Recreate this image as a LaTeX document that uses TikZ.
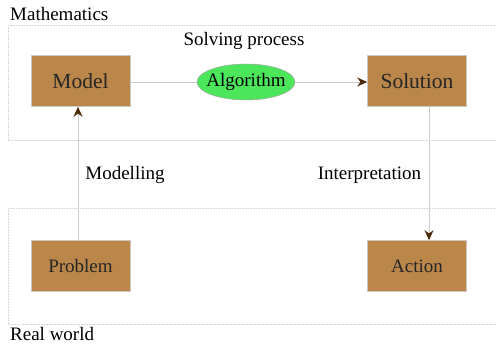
\documentclass[tikz,border=0pt]{standalone}
\usepackage{fontspec}
\newfontfamily\tms{Liberation Serif}
\usetikzlibrary{shapes.geometric,arrows.meta}
\definecolor{boxfill}{HTML}{BA864A}
\definecolor{boxline}{HTML}{D0C8C0}
\definecolor{conn}{HTML}{CCCCCC}
\definecolor{tipc}{HTML}{4A2A0A}
\definecolor{algfill}{HTML}{4CE65A}
\definecolor{zone}{HTML}{D4D4D4}
\begin{document}
\begin{tikzpicture}[x=1pt,y=-1pt,
  zonebox/.style={draw=zone,densely dotted,line width=0.6pt},
  stagebox/.style={draw=boxline,fill=boxfill,line width=0.6pt,minimum width=99pt,minimum height=51pt,inner sep=0pt,text=black!85},
  algbox/.style={ellipse,draw=gray!70,fill=algfill,line width=0.5pt,minimum width=98pt,minimum height=36pt,inner xsep=-5pt,inner ysep=0pt,font=\tms\fontsize{19}{21}\selectfont},
  conline/.style={draw=conn,line width=0.8pt},
  conarrow/.style={conline,-{Stealth[length=10pt,width=9pt,color=tipc]}},
  lbl/.style={inner sep=0pt,font=\tms\fontsize{19}{21}\selectfont}]
\useasboundingbox (0,0) rectangle (496,344);
\fill[white] (0,0) rectangle (496,344);
\draw[zonebox] (8,25) -- (500,25) (8,25) -- (8,140) -- (500,140);
\draw[zonebox] (8,208) -- (500,208) (8,208) -- (8,324) -- (500,324);
\node[lbl,anchor=base west] (math) at (10,21) {Mathematics};
\node[lbl,anchor=base west] (real) at (10,341) {Real world};
\node[stagebox,font=\tms\fontsize{21.5}{24}\selectfont] (model) at (80.5,81) {Model};
\node[stagebox,font=\tms\fontsize{21.5}{24}\selectfont] (solution) at (417,81) {Solution};
\node[stagebox,font=\tms\fontsize{19}{21}\selectfont] (problem) at (80.5,266) {\raisebox{-2pt}{Problem}};
\node[stagebox,font=\tms\fontsize{19}{21}\selectfont] (action) at (417,266) {Action};
\node[algbox] (alg) at (246,82) {Algorithm};
\node[lbl,anchor=base] (solving) at (244,46) {Solving process};
\node[lbl] (modelling) at (125,175) {Modelling};
\node[lbl] (interp) at (369.5,175) {Interpretation};
\draw[conline] (model.east |- alg.west) -- (alg.west);
\draw[conarrow] (alg.east) -- (solution.west |- alg.east);
\draw[conarrow] (problem.north -| 78,0) -- (model.south -| 78,0);
\draw[conarrow] (solution.south -| 429,0) -- (action.north -| 429,0);
\end{tikzpicture}
\end{document}
